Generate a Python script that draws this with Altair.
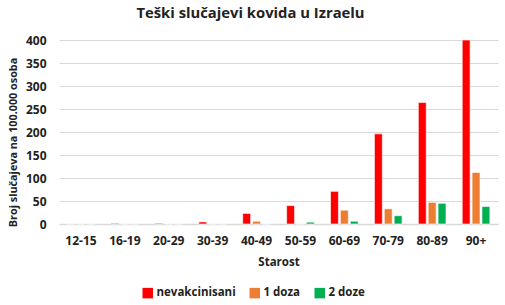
import altair as alt
import pandas as pd

# Age groups and severe cases per 100,000 people by vaccination status
ages = ["12-15", "16-19", "20-29", "30-39", "40-49", "50-59", "60-69", "70-79", "80-89", "90+"]
unvaccinated = [0, 1.5, 1.5, 4.5, 23, 40, 71, 196, 264, 400]
one_dose = [0, 0, 0, 0, 6, 0, 30, 33, 47, 112]
two_doses = [0, 0, 0, 0, 0, 4, 6, 18, 45, 38]
series = ["nevakcinisani", "1 doza", "2 doze"]
colors = ["#FF0000", "#ED7D31", "#00B050"]

rows = []
for name, vals in zip(series, [unvaccinated, one_dose, two_doses]):
    for age, v in zip(ages, vals):
        rows.append({"Starost": age, "serija": name, "vrijednost": v})
df = pd.DataFrame(rows)

FONT = "Open Sans"

bars = alt.Chart(df).mark_bar(stroke="white", strokeWidth=0.6).encode(
    x=alt.X("Starost:N", sort=ages,
            scale=alt.Scale(paddingInner=0.37, paddingOuter=0.185),
            axis=alt.Axis(title="Starost", labelAngle=0, labelFontSize=12,
                          labelFontWeight="bold", labelColor="#222",
                          labelPadding=11, titleFontSize=11.5, titleFontWeight="bold",
                          titleColor="#222", titlePadding=10, ticks=False,
                          domainColor="#d9d9d9", domainWidth=1.5)),
    xOffset=alt.XOffset("serija:N", sort=series,
                        scale=alt.Scale(paddingInner=0.2, paddingOuter=0)),
    y=alt.Y("vrijednost:Q",
            scale=alt.Scale(domain=[0, 400], nice=False),
            axis=alt.Axis(title="Broj slučajeva na 100.000 osoba", values=list(range(0, 401, 50)),
                          labelFontSize=12, labelFontWeight="bold", labelColor="#222",
                          labelPadding=13, titleFontSize=10.8, titleFontWeight="bold",
                          titleColor="#222", titlePadding=7, titleY=102, ticks=False,
                          domain=False, gridColor="#d9d9d9", gridWidth=1.2)),
    color=alt.Color("serija:N", sort=series,
                    scale=alt.Scale(domain=series, range=colors),
                    legend=alt.Legend(title=None, orient="none", direction="horizontal",
                                      legendX=83, legendY=247, symbolType="square",
                                      symbolSize=110, symbolStrokeWidth=0,
                                      labelFontSize=11.5, labelFontWeight="bold",
                                      labelColor="#222", columnPadding=13,
                                      labelOffset=3)),
)

chart = bars.properties(
    width=439,
    height=184,
    title=alt.TitleParams("Teški slučajevi kovida u Izraelu", fontSize=14.8,
                          fontWeight="bold", color="#222", font=FONT,
                          anchor="middle", dx=-28, offset=13),
    autosize=alt.AutoSizeParams(type="none"),
    padding={"left": 59, "top": 40, "right": 7, "bottom": 81},
).configure(font=FONT).configure_view(stroke=None).configure_axis(
    labelFont=FONT, titleFont=FONT
).configure_legend(labelFont=FONT)

chart.save("out.html", embed_options={"renderer": "svg", "actions": False})
